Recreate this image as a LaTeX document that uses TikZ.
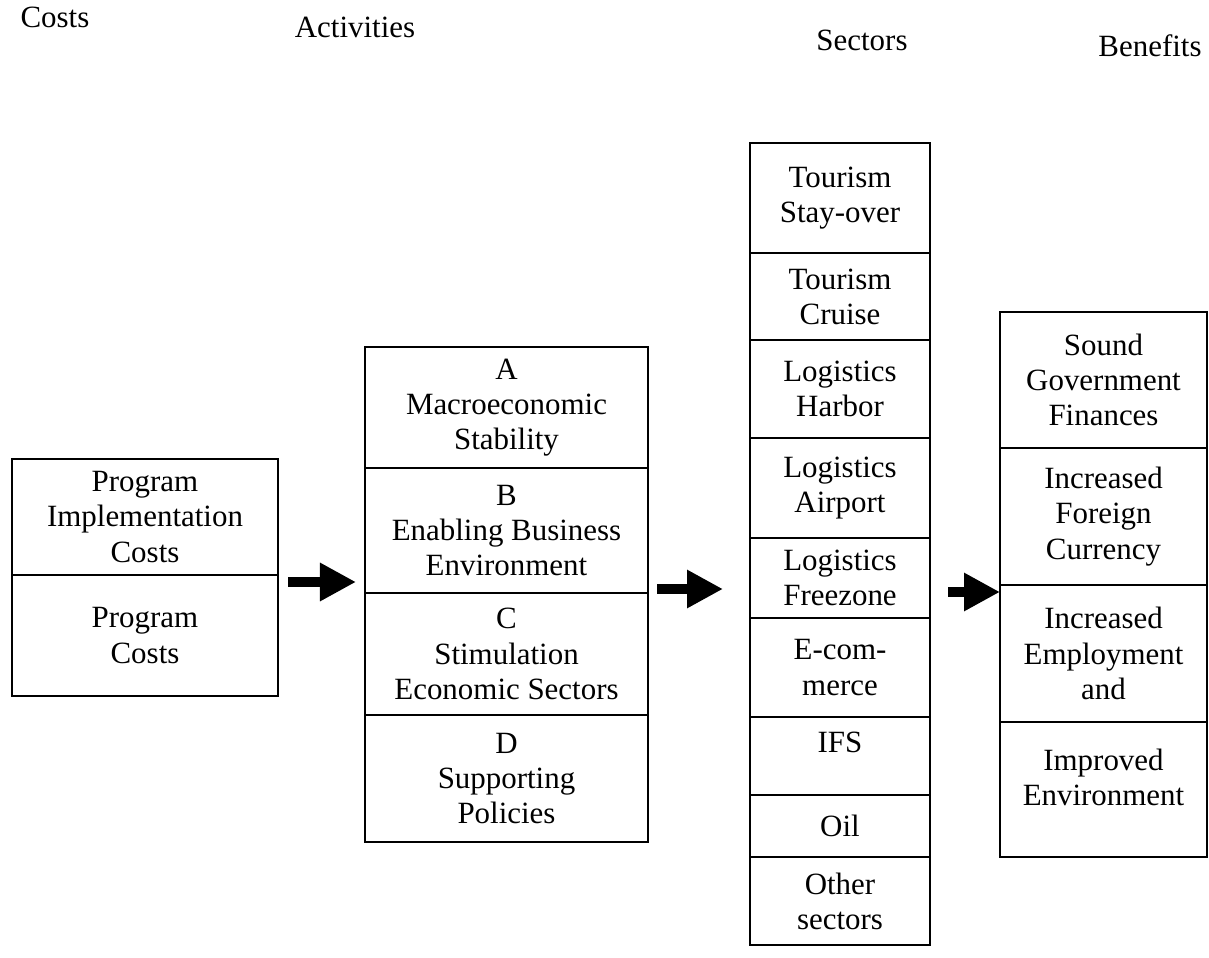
\documentclass[tikz,border=0pt]{standalone}
\usepackage{fontspec}
\setmainfont{Liberation Serif}
\usetikzlibrary{arrows.meta}
\newcommand{\px}{0.025cm}

\begin{document}
\begin{tikzpicture}[x=\px,y=-\px,font=\fontsize{22}{25}\selectfont,
  cell/.style={draw,line width=2pt,align=center,inner sep=2pt},
  costcell/.style={cell,minimum width=266*\px,minimum height=#1*\px},
  actcell/.style={cell,minimum width=283*\px,minimum height=#1*\px},
  seccell/.style={cell,minimum width=180*\px,minimum height=#1*\px},
  bencell/.style={cell,minimum width=207*\px,minimum height=#1*\px},
  flow/.style={line width=0.27cm,-{Triangle[length=0.9cm,width=0.9cm]}}]
\useasboundingbox (0,0) rectangle (1209,958);
% column headings
\node (hcost) at (55,17) {Costs};
\node (hact) at (355,27) {Activities};
\node (hsec) at (862,40) {Sectors};
\node (hben) at (1150,46) {Benefits};
% costs
\node[costcell=116] (impl) at (145,517) {Program\\Implementation\\Costs};
\node[costcell=121] (prog) at (145,635.5) {Program\\Costs};
% activities
\node[actcell=121] (actA) at (506.5,407.5) {A\\Macroeconomic\\Stability};
\node[actcell=125] (actB) at (506.5,530.5) {B\\Enabling Business\\Environment};
\node[actcell=122] (actC) at (506.5,654) {C\\Stimulation\\Economic Sectors};
\node[actcell=127] (actD) at (506.5,778.5) {D\\Supporting\\Policies};
% sectors
\node[seccell=110] (stay) at (840,198) {Tourism\\Stay-over};
\node[seccell=87] (cruise) at (840,296.5) {Tourism\\Cruise};
\node[seccell=98] (harbor) at (840,389) {Logistics\\Harbor};
\node[seccell=100] (airport) at (840,488) {Logistics\\Airport};
\node[seccell=80] (freezone) at (840,578) {Logistics\\Freezone};
\node[seccell=99] (ecom) at (840,667.5) {E-com-\\merce};
\node[seccell=78] (ifs) at (840,756) {IFS\\[-5pt]};
\node[seccell=62] (oil) at (840,826) {Oil};
\node[seccell=88] (other) at (840,901) {Other\\sectors};
% benefits
\node[bencell=136] (finance) at (1103.5,380) {Sound\\Government\\Finances};
\node[bencell=137] (currency) at (1103.5,516.5) {Increased\\Foreign\\Currency};
\node[bencell=137] (employ) at (1103.5,653.5) {Increased\\Employment\\and};
\node[bencell=135] (environ) at (1103.5,789.5) {Improved\\Environment\\[-8pt]};
% arrows between the columns
\coordinate (f1s) at (288,582); \coordinate (f1e) at (356,582);
\coordinate (f2s) at (657,589); \coordinate (f2e) at (723,589);
\coordinate (f3s) at (948,592); \coordinate (f3e) at (1000,592);
\draw[flow] (f1s) -- (f1e);
\draw[flow] (f2s) -- (f2e);
\draw[flow] (f3s) -- (f3e);
\end{tikzpicture}
\end{document}
